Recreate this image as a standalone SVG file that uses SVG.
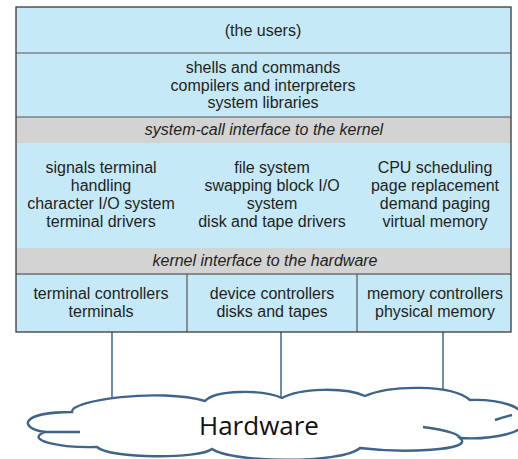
<svg xmlns="http://www.w3.org/2000/svg" width="518" height="459" viewBox="0 0 518 459">
<style>
.t{font-family:"Liberation Sans",Arial,sans-serif;font-size:16px;fill:#231f20;text-anchor:middle}
.i{font-style:italic}
.blue{fill:#c6e9f8}
.grey{fill:#d3d3d3}
.sep{stroke:#555;stroke-width:1.2;fill:none}
.conn{stroke:#2d5c8a;stroke-width:1.4;fill:none}
.cloud{stroke:#3e6489;stroke-width:2.4;fill:#fff;stroke-linejoin:miter}
.cl{stroke:#3e6489;stroke-width:2.4;fill:none;stroke-linecap:butt}
</style>
<rect width="518" height="459" fill="#fff"/>
<g id="connectors">
<line class="conn" x1="112" y1="332" x2="112" y2="399"/>
<line class="conn" x1="281" y1="332" x2="281" y2="399"/>
<line class="conn" x1="443" y1="332" x2="443" y2="399"/>
</g>
<g id="hardware">
<path class="cloud" d="M72,412 C70,400 160,388 205,401 C215,390 262,389 282,398 C300,388 345,387 365,396 C390,385 452,384 470,400 C498,399 530,407 520,420 C532,432 492,440 460,438 C476,451 400,453 360,448 C342,464 232,463 212,449 C200,459 110,459 97,447 C58,448 24,440 45,432 C18,428 20,412 72,412 Z"/>
<path class="cl" d="M44,432 Q62,432 80,432"/>
<path class="cl" d="M512,415 Q504,417 495,420"/>
<path class="cl" d="M423,427 C445,430 462,434 461,440"/>
<text x="259" y="435" style="font-family:'Open Sans',sans-serif;font-size:26px;fill:#111;text-anchor:middle">Hardware</text>
</g>
<g id="users">
<rect class="blue" x="16" y="7" width="495" height="46"/>
<text class="t" x="263" y="36">(the users)</text>
</g>
<g id="shells">
<rect class="blue" x="16" y="53" width="495" height="64"/>
<text class="t" x="263" y="73">shells and commands</text>
<text class="t" x="263" y="90.5">compilers and interpreters</text>
<text class="t" x="263" y="108">system libraries</text>
</g>
<g id="syscall">
<rect class="grey" x="16" y="117" width="495" height="26"/>
<text class="t i" x="264" y="135">system-call interface to the kernel</text>
</g>
<g id="kernel">
<rect class="blue" x="16" y="143" width="495" height="105"/>
<text class="t" x="101" y="173">signals terminal</text>
<text class="t" x="101" y="191">handling</text>
<text class="t" x="101" y="209">character I/O system</text>
<text class="t" x="101" y="227">terminal drivers</text>
<text class="t" x="272" y="173">file system</text>
<text class="t" x="272" y="191">swapping block I/O</text>
<text class="t" x="272" y="209">system</text>
<text class="t" x="272" y="227">disk and tape drivers</text>
<text class="t" x="435" y="173">CPU scheduling</text>
<text class="t" x="435" y="191">page replacement</text>
<text class="t" x="435" y="209">demand paging</text>
<text class="t" x="435" y="227">virtual memory</text>
</g>
<g id="kernel-hw">
<rect class="grey" x="16" y="248" width="495" height="26"/>
<text class="t i" x="265" y="266">kernel interface to the hardware</text>
</g>
<g id="terminal-ctrl">
<rect class="blue" x="16" y="274" width="171" height="58"/>
<text class="t" x="101" y="299">terminal controllers</text>
<text class="t" x="101" y="317">terminals</text>
</g>
<g id="device-ctrl">
<rect class="blue" x="187" y="274" width="170" height="58"/>
<text class="t" x="272" y="299">device controllers</text>
<text class="t" x="272" y="317">disks and tapes</text>
</g>
<g id="memory-ctrl">
<rect class="blue" x="357" y="274" width="154" height="58"/>
<text class="t" x="435" y="299">memory controllers</text>
<text class="t" x="435" y="317">physical memory</text>
</g>
<g id="lines">
<line class="sep" x1="16" y1="53" x2="511" y2="53"/>
<line class="sep" x1="16" y1="117" x2="511" y2="117"/>
<line x1="16" y1="274" x2="511" y2="274" stroke="#6e6e6e" stroke-width="1.6"/>
<line class="sep" x1="187" y1="274" x2="187" y2="332"/>
<line class="sep" x1="357" y1="274" x2="357" y2="332"/>
<rect x="16" y="7" width="495" height="325" fill="none" stroke="#3a3a3a" stroke-width="1.3"/>
</g>
</svg>
